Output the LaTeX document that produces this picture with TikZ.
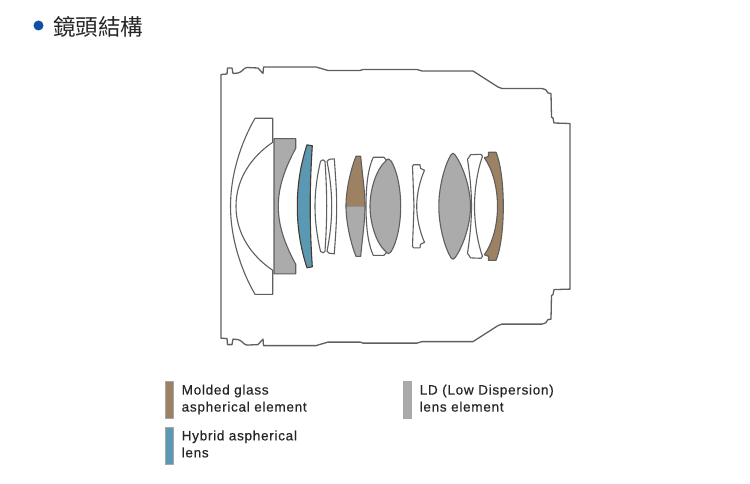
\documentclass[tikz,border=0pt]{standalone}
\usepackage{fontspec}
\setmainfont{Liberation Sans}
\newfontfamily\cjk{Noto Sans CJK TC}
\newfontfamily\legendfont[LetterSpace=5,FakeBold=0.5]{Liberation Sans}
\definecolor{moldedcol}{HTML}{9C8162}
\definecolor{hybridcol}{HTML}{5B98B3}
\definecolor{ldcol}{HTML}{ABABAB}
\definecolor{linecol}{HTML}{5F5F5F}
\definecolor{bulletcol}{HTML}{0F4FA8}
\begin{document}
\begin{tikzpicture}[x=1pt,y=-1pt]
	\tikzset{lens/.style = {draw=linecol,line width=1.1pt,line join=round,fill=white}}
	\tikzset{swatch/.style = {draw=black!35,line width=.5pt,minimum width=8pt,minimum height=37.5pt,inner sep=0pt}}
	\tikzset{legend/.style = {anchor=north west,align=left,inner sep=0pt,font=\legendfont\fontsize{13.6}{17}\selectfont,text=black!85}}
	\useasboundingbox (0,0) rectangle (750,484);
	\node[circle,fill=bulletcol,minimum size=10pt,inner sep=0pt] (bullet) at (38.5,25.5) {};
	\node[anchor=west,inner sep=0pt,font=\cjk\fontsize{22.5}{24}\selectfont,text=black!85] (title) at (53,26.5) {鏡頭結構};
	\begin{scope}[shift={(0,206.3)}]
		\draw[lens,line width=1.3pt] (221,-131.8) -- (227,-132.3) -- (227.5,-138.3) -- (232,-138.3) -- (233,-132.8) -- (238,-133.3) .. controls (242,-134) and (244,-138.8) .. (247,-138.8) -- (258,-138.3) -- (263,-132.8) -- (263.5,-139.3) -- (316,-139.3) -- (328,-135.8) -- (360,-135.8) -- (363,-136.8) -- (417,-136.8) -- (422,-135.3) -- (473,-135.3) -- (498,-119.3) -- (502,-117.8) -- (542,-117.8) .. controls (545,-117.8) and (547,-116) .. (548,-113.3) -- (551,-112.8) -- (551.5,-89.3) -- (553,-88.3) -- (554,-83.3) -- (570,-82.8)
			-- (570,82.8) -- (554,83.3) -- (553,88.3) -- (551.5,89.3) -- (551,112.8) -- (548,113.3) .. controls (547,116) and (545,117.8) .. (542,117.8) -- (502,117.8) -- (498,119.3) -- (473,135.3) -- (422,135.3) -- (417,136.8) -- (363,136.8) -- (360,135.8) -- (328,135.8) -- (316,139.3) -- (263.5,139.3) -- (263,132.8) -- (258,138.3) -- (247,138.8) .. controls (244,138.8) and (242,134) .. (238,133.3) -- (233,132.8) -- (232,138.3) -- (227.5,138.3) -- (227,132.3) -- (221,131.8) -- cycle;
		\draw[lens] (255,-88) -- (272.7,-88) -- (272.7,-64) .. controls (252,-50) and (236,-28) .. (236,0) .. controls (236,28) and (252,50) .. (272.7,64) -- (272.7,88) -- (255,88) .. controls (240,62) and (230.5,30) .. (230.5,0) .. controls (230.5,-30) and (240,-62) .. (255,-88) -- cycle;
		\draw[lens,fill=ldcol] (274,-67.6) -- (295.7,-67.6) -- (295.7,-58) .. controls (285,-38) and (278.3,-20) .. (278.3,0) .. controls (278.3,20) and (285,38) .. (295.7,58) -- (295.7,67.6) -- (274,67.6) -- cycle;
		\draw[lens,fill=hybridcol,draw=black!55!moldedcol] (307,-61.5) -- (312.3,-60.5) .. controls (311,-40) and (310.2,-20) .. (310.2,0) .. controls (310.2,20) and (311,40) .. (312.3,60.5) -- (307,61.5) .. controls (300,40) and (297.3,20) .. (297.3,0) .. controls (297.3,-20) and (300,-40) .. (307,-61.5) -- cycle;
		\draw[lens] (320.5,-45) .. controls (322,-47) and (324,-47) .. (325,-45) .. controls (326,-30) and (326.7,-15) .. (326.7,0) .. controls (326.7,15) and (326,30) .. (325,45) .. controls (324,47) and (322,47) .. (320.5,45) .. controls (317,30) and (315,15) .. (315,0) .. controls (315,-15) and (317,-30) .. (320.5,-45) -- cycle;
		\draw[lens] (327,-45) -- (329.3,-47) -- (334.3,-47.5) .. controls (335.5,-30) and (336.7,-15) .. (336.7,0) .. controls (336.7,15) and (335.5,30) .. (334.3,47.5) -- (329.3,47) -- (327,45) .. controls (330,30) and (331.7,15) .. (331.7,0) .. controls (331.7,-15) and (330,-30) .. (327,-45) -- cycle;
		\draw[lens,fill=moldedcol] (356,-50) -- (360.7,-50) .. controls (362.5,-30) and (365,-15) .. (365,-.5) -- (346,-.5) .. controls (346,-15) and (350,-35) .. (356,-50) -- cycle;
		\draw[lens,fill=ldcol] (346,-.5) -- (365,-.5) .. controls (365,15) and (362.5,30) .. (360.7,50) -- (356,50) .. controls (350,35) and (346,15) .. (346,-.5) -- cycle;
		\draw[moldedcol,line width=1.1pt] (346.5,-.5) -- (364.5,-.5);
		\draw[lens] (366,0) .. controls (366,-25) and (369,-40) .. (373.3,-49) -- (384,-49) -- (387.3,-45) -- (387.3,45) -- (384,49) -- (373.3,49) .. controls (369,40) and (366,25) .. (366,0) -- cycle;
		\draw[lens,fill=ldcol] (385.5,-45) .. controls (387,-48) and (390,-48) .. (391,-45.5) .. controls (397,-36) and (400.7,-18) .. (400.7,0) .. controls (400.7,18) and (397,36) .. (391,45.5) .. controls (390,48) and (387,48) .. (385.5,45) .. controls (377,38) and (370,18) .. (370,0) .. controls (370,-18) and (377,-38) .. (385.5,-45) -- cycle;
		\draw[lens] (412.5,-40) -- (413.5,-41.5) -- (420,-41.5) -- (420.5,-38) -- (424.5,-36) .. controls (420,-26) and (416.7,-12) .. (416.7,0) .. controls (416.7,12) and (420,26) .. (424.5,36) -- (420.5,38) -- (420,41.5) -- (413.5,41.5) -- (412.5,40) -- (414,0) -- cycle;
		\draw[lens] (467.5,-47) -- (470.7,-51.6) -- (481,-52) -- (482.5,-50) .. controls (477,-35) and (474.5,-15) .. (474.5,0) .. controls (474.5,15) and (477,35) .. (482.5,50) -- (481,52) -- (470.7,51.6) -- (467.5,47) .. controls (470,30) and (471.5,15) .. (471.5,0) .. controls (471.5,-15) and (470,-30) .. (467.5,-47) -- cycle;
		\draw[lens,fill=ldcol] (451,-51.5) .. controls (452,-53.5) and (454,-53.5) .. (455,-51.5) .. controls (462,-42) and (470.5,-20) .. (470.5,0) .. controls (470.5,20) and (462,42) .. (455,51.5) .. controls (454,53.5) and (452,53.5) .. (451,51.5) .. controls (445,42) and (438.8,20) .. (438.8,0) .. controls (438.8,-20) and (445,-42) .. (451,-51.5) -- cycle;
		\draw[lens,fill=moldedcol] (488.5,-54) -- (496,-54) .. controls (500,-45) and (503.3,-25) .. (503.3,0) .. controls (503.3,25) and (500,45) .. (496,54) -- (488.5,54) -- (488.5,50) -- (484.3,48.5) .. controls (492,38) and (497.5,20) .. (497.5,0) .. controls (497.5,-20) and (492,-38) .. (484.3,-48.5) -- (488.5,-50) -- cycle;
	\end{scope}
	\node[swatch,fill=moldedcol] (molded) at (169.7,399.8) {};
	\node[swatch,fill=hybridcol] (hybrid) at (169.7,445.8) {};
	\node[swatch,fill=ldcol] (ld) at (407.5,399.8) {};
	\node[legend] (moldedtext) at (181.5,384.5) {Molded glass\\aspherical element};
	\node[legend] (hybridtext) at (181.5,430.3) {Hybrid aspherical\\lens};
	\node[legend] (ldtext) at (419.5,384.5) {LD (Low Dispersion)\\lens element};
\end{tikzpicture}
\end{document}
